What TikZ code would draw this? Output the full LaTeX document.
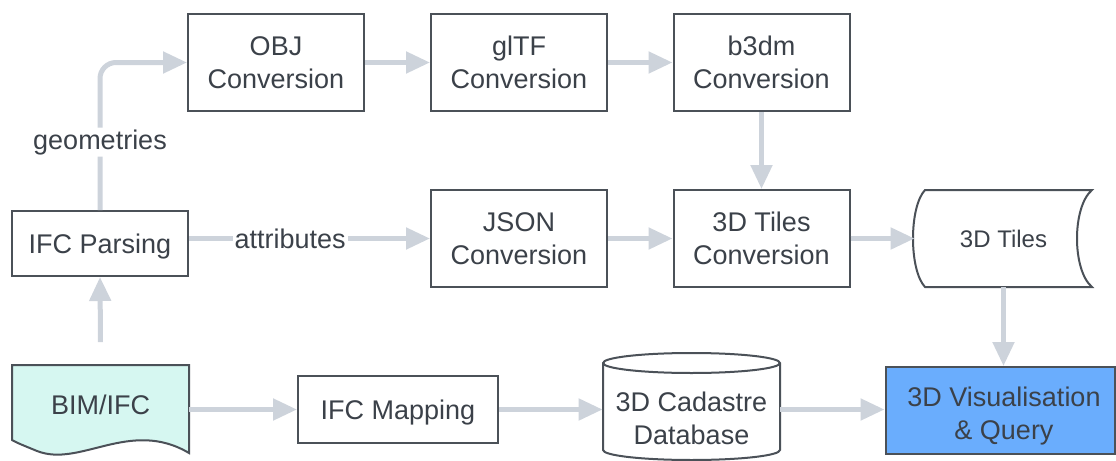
\documentclass[tikz,border=0pt]{standalone}
\usepackage{fontspec}
\setmainfont{Liberation Sans}
\usetikzlibrary{arrows.meta}
\definecolor{txt}{HTML}{3B4149}
\definecolor{edge}{HTML}{4B5158}
\definecolor{flow}{HTML}{CDD3DB}
\definecolor{docfill}{HTML}{D6F7F1}
\definecolor{visfill}{HTML}{6AADFD}
\tikzset{
  proc/.style={draw=edge, line width=1pt, fill=white, text=txt, align=center,
    font=\fontsize{13.5}{16.5}\selectfont, inner sep=0pt},
  plain/.style={text=txt, align=center, font=\fontsize{13.5}{16.5}\selectfont,
    inner sep=0pt},
  flowarrow/.style={draw=flow, line width=2.5pt,
    -{Triangle[length=12pt,width=10.5pt]}},
  lbl/.style={fill=white, text=txt, font=\fontsize{13.5}{16.5}\selectfont,
    inner sep=1pt}
}
\begin{document}
\begin{tikzpicture}[x=0.5pt,y=-0.5pt]
\useasboundingbox (0,0) rectangle (1116,461);

% processing steps
\node[proc, minimum width=88pt, minimum height=48.5pt] (obj)  at (276,62.5)  {OBJ\\Conversion};
\node[proc, minimum width=88pt, minimum height=48.5pt] (gltf) at (519,62.5)  {glTF\\Conversion};
\node[proc, minimum width=88pt, minimum height=48.5pt] (b3dm) at (761.5,62.5) {b3dm\\Conversion};
\node[proc, minimum width=88pt, minimum height=32.5pt] (pars) at (100,243.5) {};
\node[plain] (parstext) at (100,246.5) {IFC Parsing};
\node[proc, minimum width=88pt, minimum height=48.5pt] (json) at (519,238.5) {JSON\\Conversion};
\node[proc, minimum width=88pt, minimum height=48.5pt] (conv) at (761.5,238.5) {3D Tiles\\Conversion};
\node[proc, minimum width=100pt, minimum height=33.5pt] (map) at (398,409.5) {};
\node[plain] (maptext) at (398,413) {IFC Mapping};
\node[proc, fill=visfill, minimum width=114.5pt, minimum height=43.5pt] (vis) at (1000,410.5) {};
\node[plain] (vistext) at (1004,416) {3D Visualisation\\\& Query};

% stored data: 3D Tiles
\draw[draw=edge, line width=1pt, fill=white]
  (925,190) -- (1092,190)
  .. controls (1072,207) and (1072,270) .. (1092,287)
  -- (925,287)
  .. controls (909,270) and (909,207) .. (925,190) -- cycle;
\node[plain, font=\fontsize{12}{14}\selectfont, minimum width=88.5pt, minimum height=48.5pt]
  (tiles) at (1003.5,238.5) {3D Tiles};

% database cylinder
\draw[draw=edge, line width=1pt, fill=white]
  (603,363) -- (603,450) arc[start angle=180, end angle=360, x radius=88.5, y radius=-10]
  -- (780,363) arc[start angle=0, end angle=180, x radius=88.5, y radius=-10] -- cycle;
\draw[draw=edge, line width=1pt]
  (603,363) arc[start angle=180, end angle=360, x radius=88.5, y radius=-10];
\node[minimum width=88.5pt, minimum height=53.5pt, inner sep=0pt] (cad) at (691.5,406.5) {};
\node[plain] (cadtext) at (691.5,418) {3D Cadastre\\Database};

% document: BIM/IFC
\draw[draw=edge, line width=1pt, fill=docfill]
  (12,365) -- (189,365) -- (189,453)
  .. controls (130,418) and (80,468) .. (37,451)
  .. controls (25,446) and (17,443) .. (12,440) -- cycle;
\node[minimum width=88.5pt, minimum height=45pt, inner sep=0pt] (bim) at (100.5,387.5) {};
\node[plain] (bimtext) at (100.5,405) {BIM/IFC};

% flows
\draw[flowarrow, rounded corners=8pt] (pars.north) |- (obj.west)
  node[pos=0.23, lbl] {geometries};
\draw[flowarrow] (pars.east |- json.west) -- node[lbl, pos=0.42] {attributes} (json.west);
\draw[flowarrow] (obj) -- (gltf);
\draw[flowarrow] (gltf) -- (b3dm);
\draw[flowarrow] (b3dm) -- (conv);
\draw[flowarrow] (json) -- (conv);
\draw[flowarrow] (conv) -- (tiles.west);
\draw[flowarrow] (tiles.south) -- (tiles.south |- vis.north);
\draw[flowarrow] (bim.north) -- (pars.south);
\draw[flowarrow] (bim.east |- map.west) -- (map.west);
\draw[flowarrow] (map.east) -- (map.east -| cad.west);
\draw[flowarrow] (cad.east |- map.east) -- (vis.west |- map.east);
\end{tikzpicture}
\end{document}
